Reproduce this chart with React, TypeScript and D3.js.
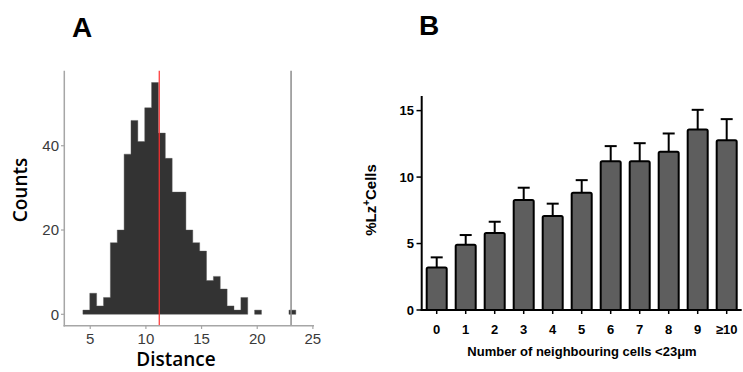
import React from "react";
import * as d3 from "d3";

// Panel A: histogram of distances
const histStart = 4.34;
const histBinWidth = 0.617;
const histCounts = [1, 5, 2, 4, 17, 20, 38, 46, 41, 49, 55, 43, 37, 29, 29, 20, 17, 15, 8, 9, 6, 2, 1, 4, 0, 1, 0, 0, 0, 0, 1];
const histXTicks = [5, 10, 15, 20, 25];
const histYTicks = [0, 20, 40];
const redLineX = 11.2;
const grayLineX = 23.04;

// Panel B: bar chart with error bars
const barCategories = ["0", "1", "2", "3", "4", "5", "6", "7", "8", "9", "≥10"];
const barValues = [3.2, 4.9, 5.8, 8.27, 7.07, 8.82, 11.2, 11.2, 11.9, 13.58, 12.78];
const barErrors = [0.76, 0.74, 0.84, 0.93, 0.93, 0.95, 1.13, 1.35, 1.38, 1.48, 1.58];
const barYTicks = [0, 5, 10, 15];

export default function App() {
  // Panel A scales
  const xA = d3.scaleLinear().domain([2.67, 25.1]).range([64.3, 314]);
  const yA = d3.scaleLinear().domain([-2.7, 57.8]).range([325.7, 70.7]);
  const bins = histCounts.map((c, i) => ({
    x0: histStart + i * histBinWidth,
    x1: histStart + (i + 1) * histBinWidth,
    c,
  }));

  // build the histogram outline as one path per contiguous run (no seams)
  const runs: { x0: number; x1: number; c: number }[][] = [];
  let cur: { x0: number; x1: number; c: number }[] = [];
  bins.forEach((b) => {
    if (b.c > 0) cur.push(b);
    else if (cur.length) {
      runs.push(cur);
      cur = [];
    }
  });
  if (cur.length) runs.push(cur);
  const runPath = (run: { x0: number; x1: number; c: number }[]) => {
    const p = d3.path();
    p.moveTo(xA(run[0].x0), yA(0));
    run.forEach((b) => {
      p.lineTo(xA(b.x0), yA(b.c));
      p.lineTo(xA(b.x1), yA(b.c));
    });
    p.lineTo(xA(run[run.length - 1].x1), yA(0));
    p.closePath();
    return p.toString();
  };

  // Panel B scales
  const xB = d3
    .scaleBand<string>()
    .domain(barCategories)
    .range([421.7, 741.7])
    .paddingInner(0.241)
    .paddingOuter(0.138);
  const yB = d3.scaleLinear().domain([0, 16.1]).range([310, 96]);

  const axisGray = "#a6a6a6";
  const tickTextA = "#3a3a3a";

  return (
    <svg width={743} height={372} style={{ position: "absolute", left: 0, top: 0, background: "#fff" }}>
      {/* Panel labels */}
      <text x={82} y={37} fontFamily="Liberation Sans, Arial, sans-serif" fontWeight="bold" fontSize={28} textAnchor="middle" fill="#000">A</text>
      <text x={429} y={35} fontFamily="Liberation Sans, Arial, sans-serif" fontWeight="bold" fontSize={28} textAnchor="middle" fill="#000">B</text>

      {/* Panel A histogram */}
      <g>
        {runs.map((r, i) => (
          <path key={i} d={runPath(r)} fill="#333333" stroke="#555" strokeWidth={0.4} />
        ))}
        <line x1={xA(redLineX)} x2={xA(redLineX)} y1={70.7} y2={325.7} stroke="#ff3030" strokeWidth={1.2} />
        <line x1={xA(grayLineX)} x2={xA(grayLineX)} y1={70.7} y2={325.7} stroke="#8c8c8c" strokeWidth={1.5} />
        {/* axes */}
        <line x1={64.3} x2={64.3} y1={70.7} y2={326.5} stroke={axisGray} strokeWidth={1.5} />
        <line x1={63.5} x2={314} y1={325.7} y2={325.7} stroke={axisGray} strokeWidth={1.5} />
        {histXTicks.map((t) => (
          <g key={t}>
            <line x1={xA(t)} x2={xA(t)} y1={325.7} y2={329} stroke={axisGray} strokeWidth={1.2} />
            <text x={xA(t)} y={344} fontFamily="Liberation Sans, Arial, sans-serif" fontSize={15} textAnchor="middle" fill={tickTextA}>{t}</text>
          </g>
        ))}
        {histYTicks.map((t) => (
          <g key={t}>
            <line x1={61} x2={64.3} y1={yA(t)} y2={yA(t)} stroke={axisGray} strokeWidth={1.2} />
            <text x={59} y={yA(t) + 5.3} fontFamily="Liberation Sans, Arial, sans-serif" fontSize={15} textAnchor="end" fill={tickTextA}>{t}</text>
          </g>
        ))}
        <text x={176} y={366} fontFamily="Open Sans, sans-serif" fontWeight={600} fontSize={19} textAnchor="middle" fill="#000">Distance</text>
        <text transform="translate(27,190) rotate(-90)" fontFamily="Open Sans, sans-serif" fontWeight={600} fontSize={19} textAnchor="middle" fill="#000">Counts</text>
      </g>

      {/* Panel B bars */}
      <g>
        {barCategories.map((c, i) => {
          const x = xB(c)!;
          const w = xB.bandwidth();
          const cx = x + w / 2;
          const top = yB(barValues[i]);
          const errTop = yB(barValues[i] + barErrors[i]);
          return (
            <g key={c}>
              <line x1={cx} x2={cx} y1={top} y2={errTop} stroke="#000" strokeWidth={2} />
              <line x1={cx - 6} x2={cx + 6} y1={errTop} y2={errTop} stroke="#000" strokeWidth={2} />
              <rect x={x + 1} y={top} width={w - 2} height={yB(0) - top} fill="#5e5e5e" stroke="#000" strokeWidth={2} rx={1.5} />
              <line x1={cx} x2={cx} y1={310} y2={314} stroke="#000" strokeWidth={1.5} />
              <text x={cx} y={334} fontFamily="Liberation Sans, Arial, sans-serif" fontWeight="bold" fontSize={13} textAnchor="middle" fill="#000">{c}</text>
            </g>
          );
        })}
        <line x1={421.7} x2={421.7} y1={96} y2={311} stroke="#000" strokeWidth={2} />
        <line x1={420.7} x2={741.7} y1={310} y2={310} stroke="#000" strokeWidth={2} />
        {barYTicks.map((t) => (
          <g key={t}>
            <line x1={416.5} x2={421.7} y1={yB(t)} y2={yB(t)} stroke="#000" strokeWidth={1.5} />
            <text x={414} y={yB(t) + 4.6} fontFamily="Liberation Sans, Arial, sans-serif" fontWeight="bold" fontSize={13} textAnchor="end" fill="#000">{t}</text>
          </g>
        ))}
        <text x={582} y={356} fontFamily="Liberation Sans, Arial, sans-serif" fontWeight="bold" fontSize={13} textAnchor="middle" fill="#000">Number of neighbouring cells &lt;23μm</text>
        <text transform="translate(376,200) rotate(-90)" fontFamily="Liberation Sans, Arial, sans-serif" fontWeight="bold" fontSize={15} textAnchor="middle" fill="#000">
          %Lz<tspan dy={-6} fontSize={10}>+</tspan><tspan dy={6}>Cells</tspan>
        </text>
      </g>
    </svg>
  );
}
